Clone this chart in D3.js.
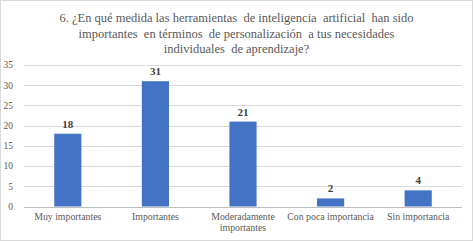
<!DOCTYPE html>
<html><head><meta charset="utf-8">
<script src="https://cdn.jsdelivr.net/npm/d3@7"></script>
<style>body{margin:0;background:#fff}svg{display:block}</style>
</head><body>
<script>
const categories = ["Muy importantes","Importantes","Moderadamente importantes","Con poca importancia","Sin importancia"];
const values = [18,31,21,2,4];
const yTicks = [0,5,10,15,20,25,30,35];
const titleLines = ["6. ¿En qué medida las herramientas  de inteligencia  artificial  han sido","importantes  en términos  de personalización  a tus necesidades","individuales  de aprendizaje?"];
const catLines = [["Muy importantes"],["Importantes"],["Moderadamente","importantes"],["Con poca importancia"],["Sin importancia"]];

const FONT='"Liberation Serif"';
const W=473,H=241;
const svg=d3.select("body").append("svg").attr("width",W).attr("height",H);
svg.append("rect").attr("x",0.5).attr("y",0.5).attr("width",W-1).attr("height",H-1).attr("fill","#fff").attr("stroke","#d9d9d9");
const x=d3.scaleBand().domain(categories).range([24,462]).paddingInner(0.69).paddingOuter(0.345);
const y=d3.scaleLinear().domain([0,35]).range([206.5,65]);

svg.append("g").selectAll("text").data(titleLines).join("text")
 .attr("x",236.5).attr("y",(d,i)=>22+i*15.5).attr("text-anchor","middle")
 .style("font-family",FONT).style("font-size","12.5px").attr("fill","#595959").style("white-space","pre").text(d=>d);

const g=svg.append("g");
g.selectAll("line.grid").data(yTicks).join("line").attr("class","grid")
 .attr("x1",24).attr("x2",462).attr("y1",d=>Math.round(y(d))+0.5).attr("y2",d=>Math.round(y(d))+0.5)
 .attr("stroke",d=>d===0?"#bfbfbf":"#d9d9d9");
g.selectAll("text.yt").data(yTicks).join("text").attr("class","yt")
 .attr("x",13).attr("y",d=>y(d)+3.3).attr("text-anchor","end")
 .style("font-family",FONT).style("font-size","9.5px").attr("fill","#595959").text(d=>d);

g.selectAll("rect.bar").data(values).join("rect").attr("class","bar")
 .attr("x",(d,i)=>x(categories[i])).attr("width",x.bandwidth())
 .attr("y",d=>y(d)).attr("height",d=>y(0)-y(d)).attr("fill","#4472c4");
g.selectAll("text.val").data(values).join("text").attr("class","val")
 .attr("x",(d,i)=>x(categories[i])+x.bandwidth()/2).attr("y",d=>y(d)-6)
 .attr("text-anchor","middle").style("font-family",FONT).style("font-size","11px").style("font-weight","bold").attr("fill","#404040").text(d=>d);

const cl=g.selectAll("text.cat").data(catLines).join("text").attr("class","cat")
 .style("font-family",FONT).style("font-size","9.8px").attr("fill","#595959").attr("text-anchor","middle");
cl.each(function(lines,i){
  const cx=x(categories[i])+x.bandwidth()/2;
  d3.select(this).selectAll("tspan").data(lines).join("tspan")
   .attr("x",cx).attr("y",(d,j)=>220+j*10.5).text(d=>d);
});
</script>
</body></html>
